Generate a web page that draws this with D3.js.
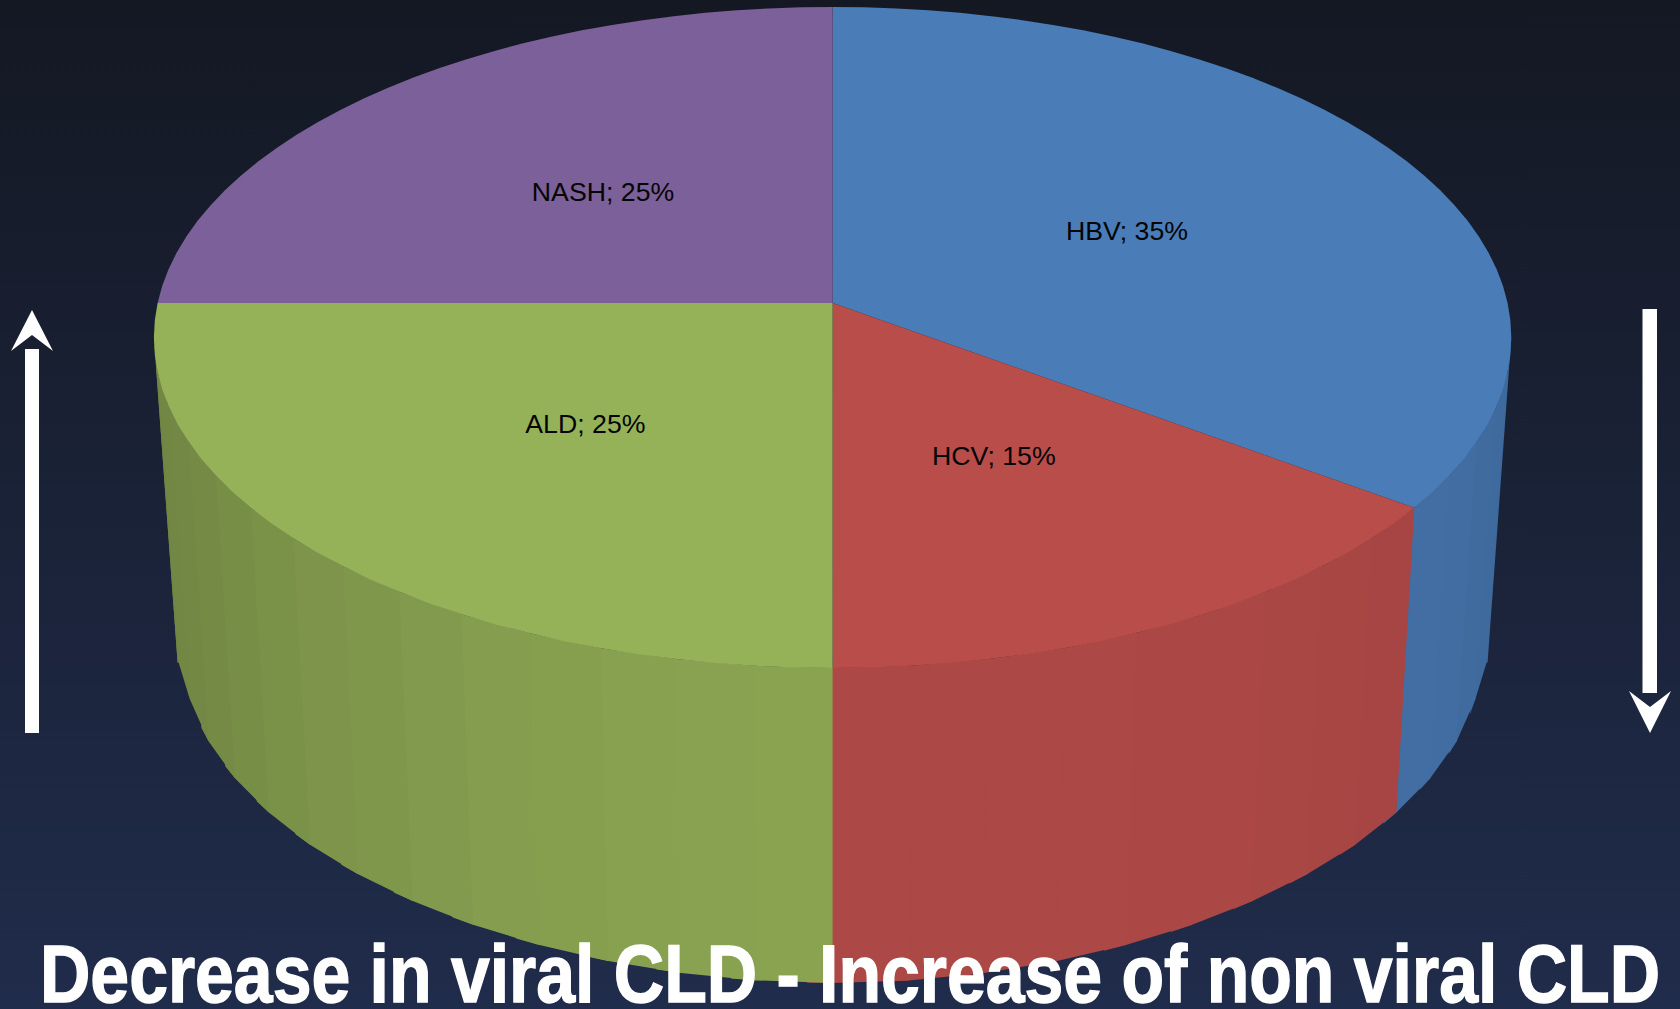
<!DOCTYPE html>
<html><head><meta charset="utf-8">
<style>html,body{margin:0;padding:0;background:#1a2030;overflow:hidden}svg{display:block}</style>
<script src="https://cdnjs.cloudflare.com/ajax/libs/d3/7.9.0/d3.min.js"></script>
</head><body><svg id="c" width="1680" height="1009"></svg>
<script>
const categories = ["HBV","HCV","ALD","NASH"];
const shares = [35,15,25,25];
const faceColors = ["#4a7cb8","#b84d4a","#96b259","#7c6099"];
const titleText = "Decrease in viral CLD - Increase of non viral CLD";

const W=1680,H=1009;
const svg=d3.select("#c");
const defs=svg.append("defs");
const g=defs.append("linearGradient").attr("id","bg").attr("x1",0).attr("y1",0).attr("x2",0).attr("y2",1);
g.append("stop").attr("offset",0).attr("stop-color","#141823");
g.append("stop").attr("offset",1).attr("stop-color","#202c4b");
svg.append("rect").attr("width",W).attr("height",H).attr("fill","url(#bg)");

// perspective projection of the unit disc on the top face
const cx=832.6, cy=303, B=675, A=326.9, k=0.1044;
const sx=d3.scaleLinear().domain([0,1]).range([0,B]);
const sy=d3.scaleLinear().domain([0,1]).range([0,A]);
function topPoint(theta,r=1){
  const u=r*Math.sin(theta), v=r*Math.cos(theta), w=1+k*v;
  return [cx+sx(u)/w, cy-sy(v)/w];
}
// bottom rim: slightly narrower than the top, with flatter shoulders
const xShrink=657/678, xMax=655, bottomRx=650, bottomCy=653, bottomRy=330, bottomN=1.95;
function bottomPoint(theta){
  const p=topPoint(theta);
  const raw=(p[0]-cx)*xShrink;
  const dx=Math.sign(raw)*Math.min(xMax,Math.abs(raw));
  const t=Math.min(0.9995,Math.abs(dx)/bottomRx);
  return [cx+dx, bottomCy+bottomRy*Math.pow(1-Math.pow(t,bottomN),1/bottomN)];
}
const pie=d3.pie().sort(null).startAngle(0).endAngle(2*Math.PI);
const arcs=pie(shares);
const line=d3.line();
const step=Math.PI/30;   // the wall is faceted every 6 degrees
const faceStep=Math.PI/60;
function angles(a,b,s){const n=Math.max(1,Math.round((b-a)/s));return d3.range(n+1).map(i=>a+(b-a)*i/n);}

// wall
const wallG=svg.append("g");
const limit=Math.acos(-k);
const wallA=Math.round(limit/step)*step, wallB=2*Math.PI-wallA;
function shade(u){return u<0 ? 0.915-0.17*Math.pow(-u,2) : 0.935-0.09*Math.pow(u,4);}
arcs.forEach((d,i)=>{
  const a=Math.max(d.startAngle,wallA), b=Math.min(d.endAngle,wallB);
  if(b<=a) return;
  const as=angles(a,b,step);
  for(let j=0;j<as.length-1;j++){
    const m=(as[j]+as[j+1])/2;
    const end=as[j+1]>=wallB-1e-6?as[j+1]:as[j+1]+step/3; // tuck under the next facet
    const pts=[topPoint(as[j]),topPoint(as[j+1]),topPoint(end),bottomPoint(end),bottomPoint(as[j+1]),bottomPoint(as[j])];
    const c=d3.rgb(faceColors[i]);const f=shade(Math.sin(m));
    wallG.append("path").attr("d",line(pts)+"Z").attr("fill",d3.rgb(c.r*f,c.g*f,c.b*f).formatHex());
  }
});
// top face
const faceG=svg.append("g");
arcs.forEach((d,i)=>{
  const pts=[[cx,cy]].concat(angles(d.startAngle,d.endAngle,faceStep).map(t=>topPoint(t)));
  faceG.append("path").attr("d",line(pts)+"Z").attr("fill",faceColors[i]);
});
// labels
const labelG=svg.append("g").attr("font-family","'Liberation Sans',Arial,sans-serif").attr("font-size",26.7).attr("fill","#050505").attr("text-anchor","middle");
arcs.forEach((d,i)=>{
  const p=topPoint((d.startAngle+d.endAngle)/2,0.5);
  labelG.append("text").attr("x",p[0]+0.6).attr("y",p[1]+9.5).text(`${categories[i]}; ${shares[i]}%`);
});
// arrows
const a1=svg.append("g").attr("fill","#fff");
a1.append("rect").attr("x",25).attr("y",349).attr("width",14).attr("height",384);
a1.append("path").attr("d",line([[32,310],[53,351],[32,335],[11,351]])+"Z");
const a2=svg.append("g").attr("fill","#fff");
a2.append("rect").attr("x",1642.5).attr("y",309).attr("width",14.5).attr("height",384);
a2.append("path").attr("d",line([[1650,733],[1671,691],[1650,707],[1629,691]])+"Z");
// title
svg.append("text").attr("x",40).attr("y",1001.5)
 .attr("font-family","'Liberation Sans',Arial,sans-serif").attr("font-weight","bold")
 .attr("font-size",81).attr("fill","#fff").attr("stroke","#fff").attr("stroke-width",1.4)
 .attr("textLength",1620).attr("lengthAdjust","spacingAndGlyphs").text(titleText);
</script></body></html>
